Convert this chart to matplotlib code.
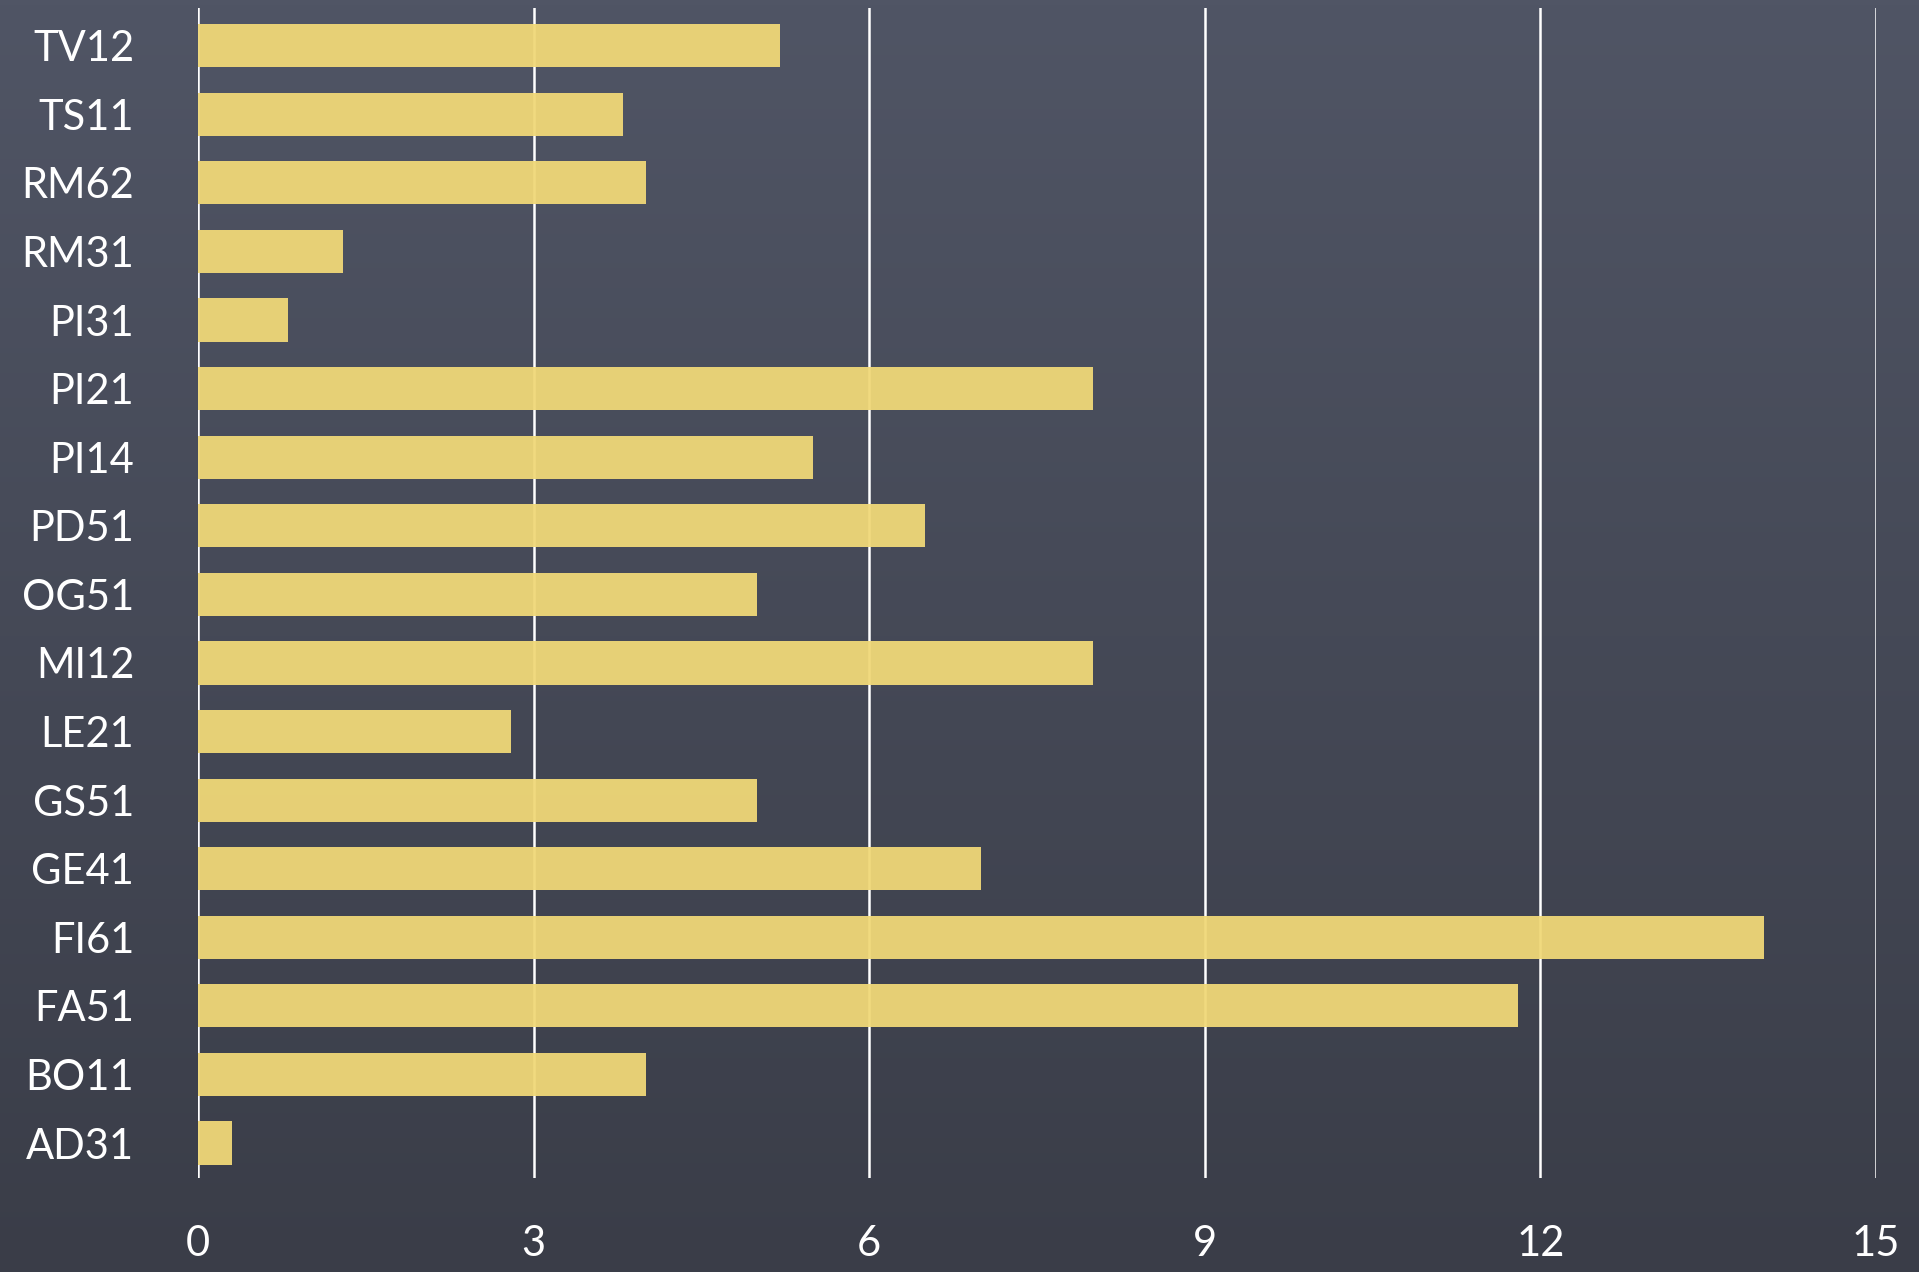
import numpy as np
import matplotlib

matplotlib.use("Agg")
import matplotlib.pyplot as plt

# data, bottom to top as drawn
codes = ["AD31", "BO11", "FA51", "FI61", "GE41", "GS51", "LE21", "MI12",
         "OG51", "PD51", "PI14", "PI21", "PI31", "RM31", "RM62", "TS11", "TV12"]
values = [0.3, 4, 11.8, 14, 7, 5, 2.8, 8, 5, 6.5, 5.5, 8, 0.8, 1.3, 4, 3.8, 5.2]
xticks = [0, 3, 6, 9, 12, 15]

plt.rcParams["font.family"] = ["Lato", "DejaVu Sans"]

fig = plt.figure(figsize=(19.19, 12.72), dpi=100)

# chalkboard backdrop: soft vertical gradient, lighter at the top
bg = fig.add_axes([0, 0, 1, 1], zorder=-10)
grad = np.linspace(0, 1, 256).reshape(-1, 1)
bg.imshow(grad, aspect="auto", extent=(0, 1, 0, 1), origin="lower",
          cmap=matplotlib.colors.LinearSegmentedColormap.from_list(
              "board", ["#3a3d48", "#505565"]))
bg.axis("off")

ax = fig.add_axes([0.1032, 0.0739, 0.8744, 0.9198])
ax.set_facecolor("none")

y = np.arange(len(codes))
ax.barh(y, values, height=0.63, color="#f0d878", alpha=0.95, zorder=3)

ax.set_xlim(0, 15)
ax.set_ylim(-0.51, 16.55)
ax.set_xticks(xticks)
ax.set_yticks(y)
ax.set_yticklabels(codes)
for xv in xticks:
    ax.axvline(xv, color="white", lw=1.8, zorder=2)

for s in ax.spines.values():
    s.set_visible(False)
ax.tick_params(axis="both", length=0, colors="white", labelsize=30)
ax.tick_params(axis="x", pad=34)
ax.tick_params(axis="y", pad=46)

fig.savefig("out.png", dpi=100)
